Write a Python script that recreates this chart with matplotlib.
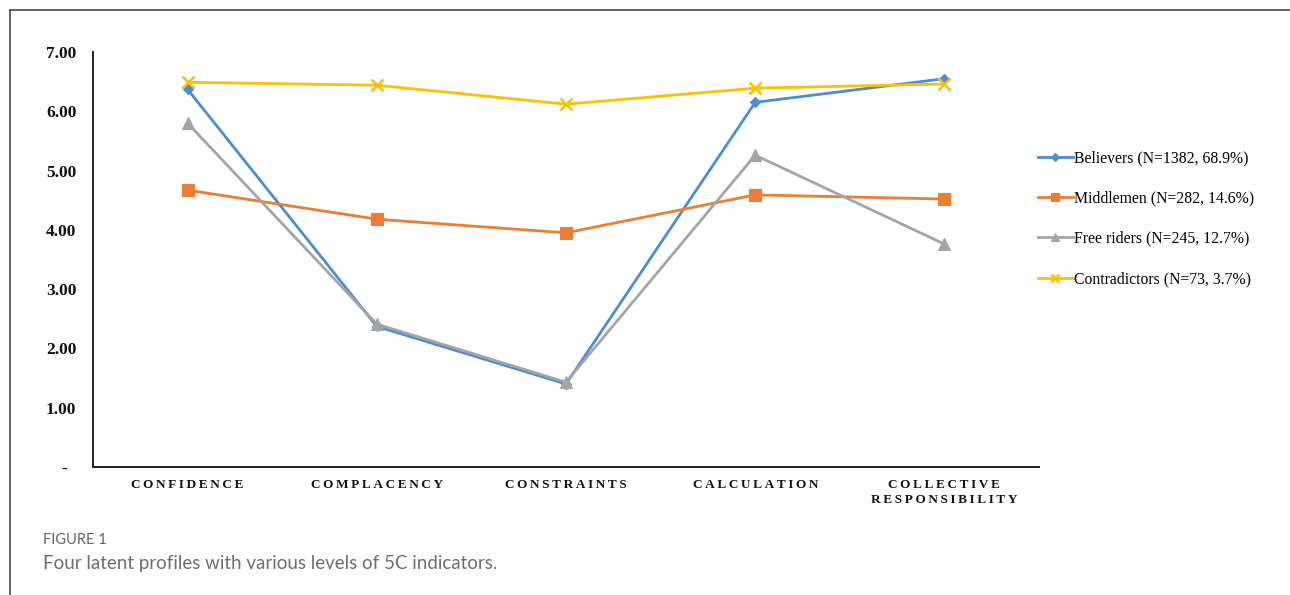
import matplotlib
matplotlib.use("Agg")
import matplotlib.pyplot as plt
from matplotlib.lines import Line2D

categories = ["CONFIDENCE", "COMPLACENCY", "CONSTRAINTS", "CALCULATION", "COLLECTIVE\nRESPONSIBILITY"]
series_names = ["Believers (N=1382, 68.9%)", "Middlemen (N=282, 14.6%)",
                "Free riders (N=245, 12.7%)", "Contradictors (N=73, 3.7%)"]
believers = [6.37, 2.37, 1.40, 6.15, 6.55]
middlemen = [4.67, 4.18, 3.95, 4.59, 4.52]
free_riders = [5.80, 2.41, 1.43, 5.26, 3.76]
contradictors = [6.49, 6.44, 6.12, 6.39, 6.46]
yticks = [0, 1, 2, 3, 4, 5, 6, 7]
ytick_labels = ["-  ", "1.00", "2.00", "3.00", "4.00", "5.00", "6.00", "7.00"]

colors = ["#4A8FD6", "#ED7D31", "#A5A5A5", "#FFC000"]
markers = ["D", "s", "^", "x"]
msizes = [5.5, 8, 8, 8]

W, H = 1290, 595
fig = plt.figure(figsize=(W / 100, H / 100), dpi=100)

# frame lines (top and left)
fig.add_artist(Line2D([10 / W, 1.0], [1 - 10 / H, 1 - 10 / H], color="#4a4a4a", lw=1.2))
fig.add_artist(Line2D([10 / W, 10 / W], [0, 1 - 10 / H], color="#4a4a4a", lw=1.2))

x0, x1 = 93, 1039
ytop, ybot = 52, 467
ax = fig.add_axes([x0 / W, 1 - ybot / H, (x1 - x0) / W, (ybot - ytop) / H])

xs = list(range(len(categories)))
all_series = [believers, middlemen, free_riders, contradictors]
handles = []
for i, (vals, name) in enumerate(zip(all_series, series_names)):
    h, = ax.plot(xs, vals, color=colors[i], lw=2.0, marker=markers[i], markersize=msizes[i],
                 markeredgewidth=(1.8 if markers[i] == "x" else 0.8), label=name, zorder=3 + i,
                 solid_joinstyle="round")
    handles.append(h)

ax.set_xlim(-0.5, len(categories) - 0.5)
ax.set_ylim(0, 7)
for s in ["top", "right"]:
    ax.spines[s].set_visible(False)
for s in ["left", "bottom"]:
    ax.spines[s].set_color("#222222")
    ax.spines[s].set_linewidth(1.4)

serif = ["Liberation Serif", "DejaVu Serif"]
ax.set_yticks(yticks)
ax.set_yticklabels(ytick_labels, fontfamily=serif, fontweight="bold", fontsize=12.5, color="#111111")
ax.tick_params(axis="y", length=0, pad=12)

spaced = ["\n".join("\u2009".join(list(p)) for p in c.split("\n")) for c in categories]
ax.set_xticks(xs)
ax.set_xticklabels(spaced, fontfamily=serif, fontweight="bold", fontsize=9.5, color="#111111",
                   linespacing=1.3)
ax.tick_params(axis="x", length=0, pad=9)

fig.legend(handles=handles, labels=series_names, loc="upper left",
           bbox_to_anchor=(1024 / W, 1 - 136 / H), frameon=False,
           prop={"family": serif, "size": 11.3}, handlelength=2.2, handletextpad=0.1,
           labelspacing=1.55, markerscale=0.8)

fig.text(43 / W, 1 - 540 / H, "FIGURE 1", fontfamily="Lato", fontsize=10.5, color="#666666", va="center")
fig.text(43 / W, 1 - 563 / H, "Four latent profiles with various levels of 5C indicators.",
         fontfamily="Lato", fontsize=13.5, color="#6e6e6e", va="center")

fig.savefig("out.png", dpi=100)
